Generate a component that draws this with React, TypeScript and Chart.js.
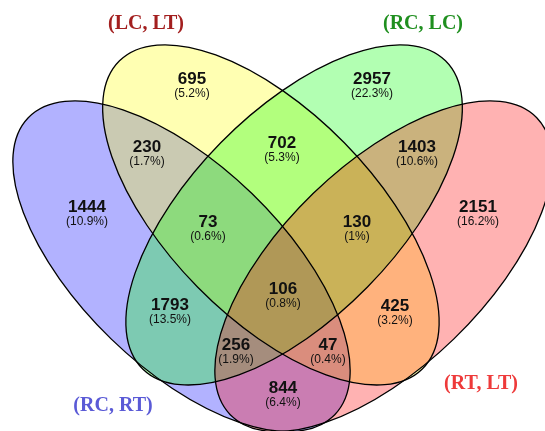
import React, { useEffect, useRef } from "react";
import { Chart, registerables } from "chart.js";

Chart.register(...registerables);

// ---- data ----
const setNames = ["(RC, RT)", "(LC, LT)", "(RC, LC)", "(RT, LT)"];
const regionCounts = [695, 2957, 230, 702, 1403, 1444, 2151, 73, 130, 106, 1793, 425, 256, 47, 844];
const regionPercents = [5.2, 22.3, 1.7, 5.3, 10.6, 10.9, 16.2, 0.6, 1, 0.8, 13.5, 3.2, 1.9, 0.4, 6.4];

// ---- layout (diagram coordinates) ----
const regionLabelX = [192, 372, 147, 282, 417, 87, 478, 208, 357, 283, 170, 395, 236, 328, 283];
const regionLabelY = [79, 79, 147, 143, 147, 207, 207, 222, 222, 289, 305, 306, 345, 345, 388];
const setLabelX = [113, 146, 423, 481];
const setLabelY = [406, 24, 24, 384];
const ellipseCX = [181.5, 270.9, 294.1, 383.5];
const ellipseCY = [266.2, 214.9, 214.9, 266.2];
const ellipseRA = [213.4, 216.0, 216.0, 213.4];
const ellipseRB = [101.2, 102.9, 102.9, 101.2];
const ellipseAngle = [44.1, 45.5, 134.5, 135.9];

// ---- styles ----
const setFillColors = ["rgba(0,0,255,0.3)", "rgba(255,255,0,0.3)", "rgba(0,255,0,0.3)", "rgba(255,0,0,0.3)"];
const setNameColors = ["#5a5ad6", "#a31f1f", "#1f8f1f", "#ee3a3a"];

const vennPlugin = {
  id: "venn",
  beforeDatasetsDraw(chart: any) {
    const ctx = chart.ctx;
    const xs = chart.scales.x;
    const ys = chart.scales.y;
    const kx = Math.abs(xs.getPixelForValue(1) - xs.getPixelForValue(0));
    ctx.save();
    for (let i = 0; i < ellipseCX.length; i++) {
      ctx.beginPath();
      ctx.ellipse(
        xs.getPixelForValue(ellipseCX[i]),
        ys.getPixelForValue(ellipseCY[i]),
        ellipseRA[i] * kx,
        ellipseRB[i] * kx,
        (ellipseAngle[i] * Math.PI) / 180,
        0,
        Math.PI * 2
      );
      ctx.fillStyle = setFillColors[i];
      ctx.fill();
    }
    ctx.strokeStyle = "#000";
    ctx.lineWidth = 1.3;
    for (let i = 0; i < ellipseCX.length; i++) {
      ctx.beginPath();
      ctx.ellipse(
        xs.getPixelForValue(ellipseCX[i]),
        ys.getPixelForValue(ellipseCY[i]),
        ellipseRA[i] * kx,
        ellipseRB[i] * kx,
        (ellipseAngle[i] * Math.PI) / 180,
        0,
        Math.PI * 2
      );
      ctx.stroke();
    }
    ctx.restore();
  },
  afterDatasetsDraw(chart: any) {
    const ctx = chart.ctx;
    ctx.save();
    ctx.textAlign = "center";
    ctx.textBaseline = "middle";
    const regMeta = chart.getDatasetMeta(0);
    regMeta.data.forEach((el: any, i: number) => {
      ctx.fillStyle = "#111";
      ctx.font = "bold 17px 'Liberation Sans', Arial, sans-serif";
      ctx.fillText(String(regionCounts[i]), el.x, el.y);
      ctx.font = "12px 'Liberation Sans', Arial, sans-serif";
      ctx.fillText(`(${regionPercents[i]}%)`, el.x, el.y + 15);
    });
    const setMeta = chart.getDatasetMeta(1);
    setMeta.data.forEach((el: any, i: number) => {
      ctx.fillStyle = setNameColors[i];
      ctx.font = "bold 20px 'Liberation Serif', 'Times New Roman', serif";
      ctx.fillText(setNames[i], el.x, el.y);
    });
    ctx.restore();
  },
};

export default function App() {
  const ref = useRef<HTMLCanvasElement | null>(null);
  useEffect(() => {
    if (!ref.current) return;
    const chart = new Chart(ref.current, {
      type: "scatter",
      data: {
        datasets: [
          {
            label: "regions",
            data: regionCounts.map((_, i) => ({ x: regionLabelX[i], y: regionLabelY[i] })),
            pointRadius: 0,
            pointHoverRadius: 0,
          },
          {
            label: "sets",
            data: setNames.map((_, i) => ({ x: setLabelX[i], y: setLabelY[i] })),
            pointRadius: 0,
            pointHoverRadius: 0,
          },
        ],
      },
      options: {
        responsive: false,
        animation: false,
        devicePixelRatio: 1,
        events: [],
        layout: { padding: 0 },
        plugins: { legend: { display: false }, tooltip: { enabled: false } },
        scales: {
          x: { type: "linear", min: 0, max: 545, display: false },
          y: { type: "linear", min: 0, max: 431, reverse: true, display: false },
        },
      },
      plugins: [vennPlugin],
    });
    return () => chart.destroy();
  }, []);
  return (
    <div style={{ position: "fixed", left: 0, top: 0, width: 545, height: 431, background: "#fff" }}>
      <canvas ref={ref} width={545} height={431} style={{ display: "block" }} />
    </div>
  );
}
